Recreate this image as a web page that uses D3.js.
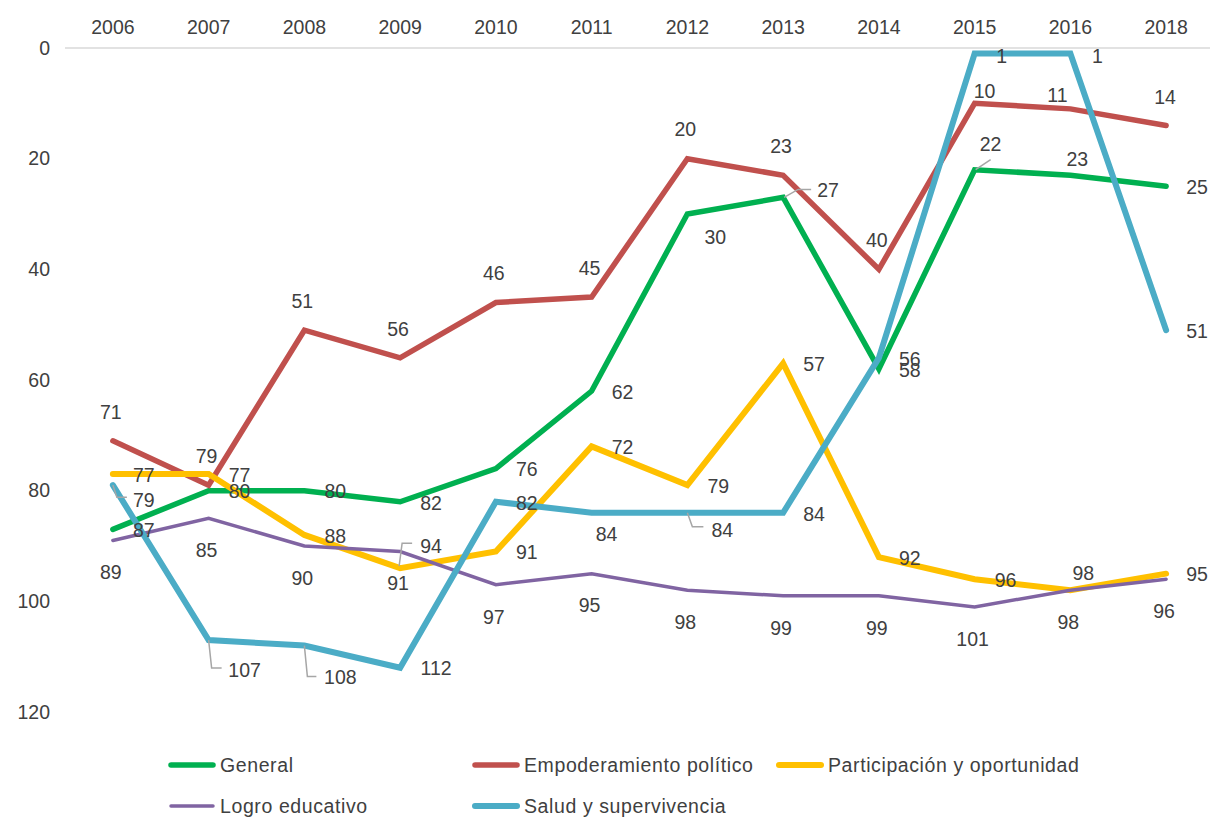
<!DOCTYPE html>
<html>
<head>
<meta charset="utf-8">
<script src="https://cdn.jsdelivr.net/npm/d3@7"></script>
<style>
  html, body { margin: 0; padding: 0; background: #fff; }
  svg { display: block; font-family: "Liberation Sans", Arial, Helvetica, sans-serif; }
</style>
</head>
<body>
<svg id="chart" width="1210" height="818"></svg>
<script>
// ---------- data ----------
const years = ["2006","2007","2008","2009","2010","2011","2012","2013","2014","2015","2016","2018"];
const general        = [87, 80, 80, 82, 76, 62, 30, 27, 58, 22, 23, 25];
const empoderamiento = [71, 79, 51, 56, 46, 45, 20, 23, 40, 10, 11, 14];
const participacion  = [77, 77, 88, 94, 91, 72, 79, 57, 92, 96, 98, 95];
const logro          = [89, 85, 90, 91, 97, 95, 98, 99, 99, 101, 98, 96];
const salud          = [79, 107, 108, 112, 82, 84, 84, 84, 56, 1, 1, 51];
const yTicks = [0, 20, 40, 60, 80, 100, 120];
const seriesNames = ["General", "Empoderamiento político", "Participación y oportunidad", "Logro educativo", "Salud y supervivencia"];

// ---------- styles ----------
const styles = [
  { color: "#00B050", width: 5.5, def: [31, 1] },
  { color: "#C0504D", width: 5.5, def: [-2, -29] },
  { color: "#FFC000", width: 6,   def: [31, 1] },
  { color: "#8064A2", width: 3.5, def: [-2, 32] },
  { color: "#4BACC6", width: 6,   def: [31, 1] }
];
// label placement overrides: index -> [dx, dy, leader points]
const overrides = [
  { 6: [28, 23], 7: [45, -7, [[1,0],[15,-8],[28,-8]]], 9: [16, -26, [[1,0],[16,-10]]], 10: [7, -16] },
  { 9: [10, -12], 10: [-13, -14], 11: [-1, -28] },
  { 3: [31, -22, [[-1,-2],[2,-25],[12,-25]]], 10: [13, -17] },
  {},
  { 0: [31, 15, [[0,0],[4,12],[14,12]]], 1: [36, 30, [[0,0],[3,28],[13,28]]], 2: [36, 32, [[0,0],[3,31],[12,31]]],
    3: [36, 0], 11: [31, 1], 5: [15, 21], 6: [35, 17, [[0,0],[5,14],[16,14]]], 9: [27, 3], 10: [27, 3] }
];
const seriesValues = [general, empoderamiento, participacion, logro, salud];

// ---------- scales ----------
const svg = d3.select("#chart");
const x = d3.scaleBand().domain(years).range([65, 1214]);
const y = d3.scaleLinear().domain([0, 120]).range([48, 712]);
const cx = d => x(d) + x.bandwidth() / 2;
const textColor = "#404040";
const fs = 19.5;

// top axis line (at value 0)
svg.append("line")
  .attr("x1", 65).attr("x2", 1213)
  .attr("y1", y(0)).attr("y2", y(0))
  .attr("stroke", "#d9d9d9").attr("stroke-width", 1.5);

// x labels at top
const xAxis = svg.append("g").attr("transform", "translate(0,34)")
  .call(d3.axisTop(x).tickSize(0).tickPadding(0));
xAxis.select(".domain").remove();
xAxis.selectAll("text").attr("fill", textColor).style("font-size", fs + "px")
  .style("font-family", "Liberation Sans, Arial, sans-serif");

// y labels
const yAxis = svg.append("g").attr("transform", "translate(50,0)")
  .call(d3.axisLeft(y).tickValues(yTicks).tickSize(0).tickPadding(0));
yAxis.select(".domain").remove();
yAxis.selectAll("text").attr("fill", textColor).style("font-size", fs + "px")
  .style("font-family", "Liberation Sans, Arial, sans-serif");

// lines
const line = d3.line().x((d, i) => cx(years[i])).y(d => y(d));
seriesValues.forEach((vals, s) => {
  svg.append("path")
    .datum(vals)
    .attr("d", line)
    .attr("fill", "none")
    .attr("stroke", styles[s].color)
    .attr("stroke-width", styles[s].width)
    .attr("stroke-linecap", "round")
    .attr("stroke-linejoin", "miter");
});

// leader lines + labels
const lblG = svg.append("g");
seriesValues.forEach((vals, s) => {
  vals.forEach((v, i) => {
    const px = cx(years[i]), py = y(v);
    const o = overrides[s][i] || styles[s].def;
    if (o[2]) {
      lblG.append("polyline")
        .attr("points", o[2].map(p => (px + p[0]) + "," + (py + p[1])).join(" "))
        .attr("fill", "none").attr("stroke", "#a6a6a6").attr("stroke-width", 1.5);
    }
    lblG.append("text")
      .attr("x", px + o[0]).attr("y", py + o[1])
      .attr("dy", "0.35em")
      .attr("text-anchor", "middle")
      .attr("fill", textColor)
      .style("font-size", fs + "px")
      .text(v);
  });
});

// legend
const legendPos = [[168, 765], [472, 765], [776, 765], [168, 806], [472, 806]];
seriesNames.forEach((name, s) => {
  const [lx, ly] = legendPos[s];
  const g = svg.append("g");
  g.append("line")
    .attr("x1", lx + 3).attr("x2", lx + 45)
    .attr("y1", ly).attr("y2", ly)
    .attr("stroke", styles[s].color)
    .attr("stroke-width", styles[s].width)
    .attr("stroke-linecap", "round");
  g.append("text")
    .attr("x", lx + 52).attr("y", ly).attr("dy", "0.35em")
    .attr("fill", textColor)
    .style("font-size", fs + "px")
    .style("letter-spacing", "0.6px")
    .text(name);
});
</script>
</body>
</html>
